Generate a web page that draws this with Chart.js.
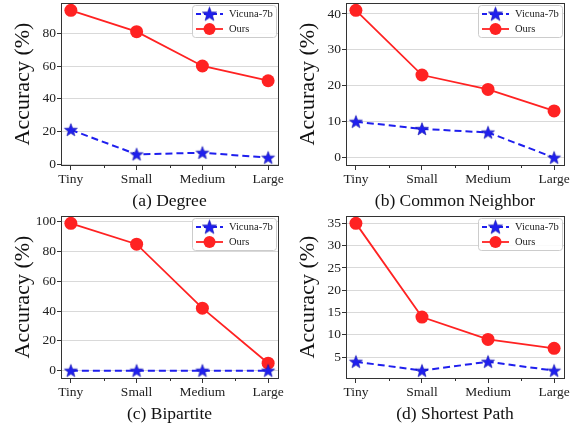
<!DOCTYPE html>
<html>
<head>
<meta charset="utf-8">
<script src="https://cdn.jsdelivr.net/npm/chart.js@4.4.1/dist/chart.umd.min.js"></script>
<style>
  body { margin: 0; background: #fff; }
  #wrap { position: relative; width: 571px; height: 430px; }
  canvas { position: absolute; }
</style>
</head>
<body>
<div id="wrap">
  <canvas id="c1" width="285" height="215" style="left:0;top:0"></canvas>
  <canvas id="c2" width="286" height="215" style="left:285px;top:0"></canvas>
  <canvas id="c3" width="285" height="215" style="left:0;top:213px"></canvas>
  <canvas id="c4" width="286" height="215" style="left:285px;top:213px"></canvas>
</div>
<script>
// datos
const categories = ['Tiny', 'Small', 'Medium', 'Large'];
const seriesNames = ['Vicuna-7b', 'Ours'];

const degreeVicuna = [21, 6, 7, 4];
const degreeOurs = [94, 81, 60, 51];
const neighborVicuna = [10, 8, 7, 0];
const neighborOurs = [41, 23, 19, 13];
const bipartiteVicuna = [0, 0, 0, 0];
const bipartiteOurs = [99, 85, 42, 5];
const pathVicuna = [4, 2, 4, 2];
const pathOurs = [35, 14, 9, 7];

const degreeTicks = [0, 20, 40, 60, 80];
const neighborTicks = [0, 10, 20, 30, 40];
const bipartiteTicks = [0, 20, 40, 60, 80, 100];
const pathTicks = [5, 10, 15, 20, 25, 30, 35];

const captions = ['(a) Degree', '(b) Common Neighbor', '(c) Bipartite', '(d) Shortest Path'];

const FONT = "'Liberation Serif', 'DejaVu Serif', serif";
const RED = '#ff2222';
const BLUE = '#1f1fee';

// estrella rellena para los puntos de Vicuna
function makeStar(r) {
    const c = document.createElement('canvas');
    const s = Math.ceil(r * 2 + 2);
    c.width = s; c.height = s;
    const g = c.getContext('2d');
    g.beginPath();
    for (let i = 0; i < 10; i++) {
        const rad = i % 2 === 0 ? r : r * 0.42;
        const a = -Math.PI / 2 + i * Math.PI / 5;
        const x = s / 2 + rad * Math.cos(a);
        const y = s / 2 + 0.5 + rad * Math.sin(a);
        if (i === 0) g.moveTo(x, y); else g.lineTo(x, y);
    }
    g.closePath();
    g.fillStyle = BLUE;
    g.fill();
    g.strokeStyle = '#1010aa';
    g.lineWidth = 0.6;
    g.stroke();
    return c;
}
const star = makeStar(6.8);
const starBig = makeStar(7.5);

// marco, ticks menores y leyenda
const extras = {
    id: 'extras',
    afterDatasetsDraw(chart) {
        const ctx = chart.ctx;
        const a = chart.chartArea;
        const xs = chart.scales.x;
        ctx.save();
        ctx.strokeStyle = '#333';
        ctx.lineWidth = 1;
        ctx.strokeRect(Math.round(a.left) + 0.5, Math.round(a.top) + 0.5, Math.round(a.right - a.left), Math.round(a.bottom - a.top));
        // ticks menores
        [0.5, 1.5, 2.5].forEach(v => {
            const px = Math.round(xs.getPixelForValue(v)) + 0.5;
            ctx.beginPath();
            ctx.moveTo(px, a.bottom);
            ctx.lineTo(px, a.bottom + 3);
            ctx.stroke();
        });
        // leyenda
        const w = 84, h = 32;
        const bx = a.right - w - 2, by = a.top + 2;
        ctx.beginPath();
        ctx.roundRect(bx + 0.5, by + 0.5, w, h, 3);
        ctx.fillStyle = 'rgba(255,255,255,0.85)';
        ctx.fill();
        ctx.strokeStyle = '#cccccc';
        ctx.stroke();
        const x0 = bx + 4, x1 = bx + 31, mx = (x0 + x1) / 2;
        // Vicuna
        let y = by + 9;
        ctx.strokeStyle = BLUE;
        ctx.lineWidth = 2;
        ctx.setLineDash([5, 3]);
        ctx.beginPath(); ctx.moveTo(x0, y); ctx.lineTo(x1, y); ctx.stroke();
        ctx.setLineDash([]);
        ctx.drawImage(starBig, mx - starBig.width / 2, y - starBig.height / 2);
        ctx.fillStyle = '#222';
        ctx.font = '10.5px ' + FONT;
        ctx.textBaseline = 'middle';
        ctx.fillText(seriesNames[0], bx + 37, y);
        // Ours
        y = by + 24;
        ctx.strokeStyle = RED;
        ctx.lineWidth = 1.8;
        ctx.beginPath(); ctx.moveTo(x0, y); ctx.lineTo(x1, y); ctx.stroke();
        ctx.beginPath(); ctx.arc(mx, y, 6, 0, Math.PI * 2);
        ctx.fillStyle = RED; ctx.fill();
        ctx.fillStyle = '#222';
        ctx.fillText(seriesNames[1], bx + 37, y);
        ctx.restore();
    }
};

function makeChart(id, vicuna, ours, ticks, yMin, yMax, caption) {
    const toPts = arr => arr.map((v, i) => ({ x: i, y: v }));
    new Chart(document.getElementById(id), {
        type: 'line',
        data: {
            datasets: [{
                label: seriesNames[0],
                data: toPts(vicuna),
                borderColor: BLUE,
                borderWidth: 2,
                borderDash: [7, 4],
                pointStyle: star,
                backgroundColor: BLUE
            }, {
                label: seriesNames[1],
                data: toPts(ours),
                borderColor: RED,
                backgroundColor: RED,
                borderWidth: 1.8,
                pointRadius: 6.5,
                pointBorderWidth: 0
            }]
        },
        options: {
            responsive: false,
            animation: false,
            layout: { autoPadding: false, padding: { top: 3, right: 7, left: 0, bottom: 0 } },
            plugins: { legend: { display: false }, tooltip: { enabled: false } },
            scales: {
                x: {
                    type: 'linear',
                    min: -0.15,
                    max: 3.15,
                    afterBuildTicks: s => { s.ticks = categories.map((c, i) => ({ value: i })); },
                    afterFit: s => { s.height = 50; s.paddingLeft = 0; s.paddingRight = 0; },
                    grid: { drawOnChartArea: false, tickLength: 5, color: '#333' },
                    border: { color: '#333' },
                    ticks: {
                        callback: v => categories[v],
                        font: { family: FONT, size: 13.5 },
                        color: '#222',
                        padding: 1,
                        maxRotation: 0
                    },
                    title: {
                        display: true,
                        text: caption,
                        font: { family: FONT, size: 17.5 },
                        color: '#111',
                        padding: { top: 0, bottom: 3 }
                    }
                },
                y: {
                    min: yMin,
                    max: yMax,
                    afterBuildTicks: s => { s.ticks = ticks.map(v => ({ value: v })); },
                    afterFit: s => { s.width = 61; s.paddingTop = 0; s.paddingBottom = 0; },
                    grid: { color: '#d9d9d9', tickColor: '#333', tickLength: 4 },
                    border: { color: '#333' },
                    ticks: {
                        font: { family: FONT, size: 13.5 },
                        color: '#222',
                        padding: 1
                    },
                    title: {
                        display: true,
                        text: 'Accuracy (%)',
                        font: { family: FONT, size: 22 },
                        color: '#111',
                        padding: { top: 10, bottom: 0 }
                    }
                }
            }
        },
        plugins: [extras]
    });
}

makeChart('c1', degreeVicuna, degreeOurs, degreeTicks, -0.5, 98.5, captions[0]);
makeChart('c2', neighborVicuna, neighborOurs, neighborTicks, -2.05, 43.05, captions[1]);
makeChart('c3', bipartiteVicuna, bipartiteOurs, bipartiteTicks, -4.95, 103.95, captions[2]);
makeChart('c4', pathVicuna, pathOurs, pathTicks, 0.35, 36.65, captions[3]);
</script>
</body>
</html>
